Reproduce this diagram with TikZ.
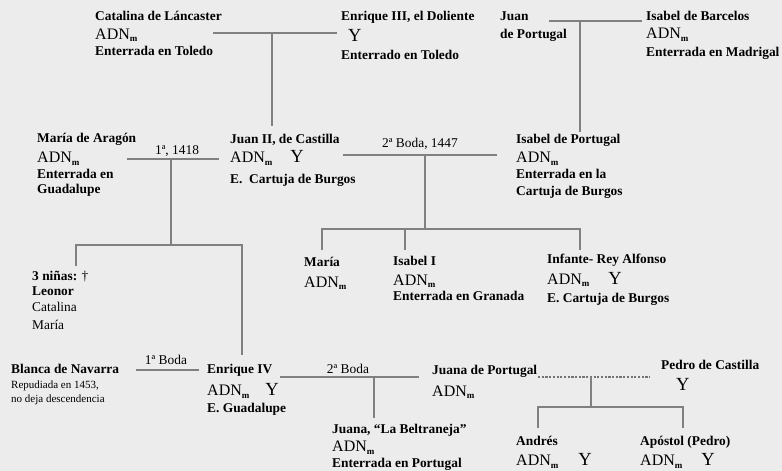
\documentclass[tikz,border=0pt]{standalone}
\usepackage{fontspec}
\setmainfont{Liberation Serif}
\definecolor{bg}{RGB}{236,236,236}
\definecolor{ln}{RGB}{128,128,128}
\newcommand\ppl[2][16.5pt]{\vtop{\baselineskip=#1\lineskiplimit=-100pt\lineskip=0pt\halign{##\hfil\cr#2\crcr}}}
\newcommand\adn{{\fontsize{16}{16}\selectfont\mdseries ADN}\raisebox{-2.5pt}{\fontsize{9}{9}\selectfont\bfseries m}}
\newcommand\yy{{\fontsize{18.5}{18}\selectfont\mdseries Y}}
\newcommand\sk[1]{\noalign{\vskip#1pt}}
\begin{document}
\begin{tikzpicture}[x=1pt,y=-1pt,
  person/.style={anchor=base west,inner sep=0pt,font=\fontsize{13.4}{16}\selectfont\bfseries},
  lbl/.style={anchor=base,inner sep=0pt,font=\fontsize{13.4}{16}\selectfont},
  link/.style={draw=ln,line width=1.4pt},
  dlink/.style={draw=ln!90!black,line width=1.2pt,dash pattern=on 2.2pt off 1.5pt}]
\fill[bg] (0,0) rectangle (782,471);
\useasboundingbox (0,0) rectangle (782,471);

% persons
\node[person] (cat) at (95,20.7) {\ppl{Catalina de Láncaster\cr\sk{2}\adn\cr Enterrada en Toledo}};
\node[person] (enr3) at (341,20.7) {\ppl{Enrique III, el Doliente\cr\sk{4.5}\hspace{7pt}\yy\cr\sk{1.5}Enterrado en Toledo}};
\node[person] (juanp) at (500,20.5) {\ppl{Juan\cr\sk{1}de Portugal}};
\node[person] (isbar) at (646,20.3) {\ppl{Isabel de Barcelos\cr\sk{2}\adn\cr\sk{1.5}Enterrada en Madrigal}};
\node[person] (maragon) at (37,142.7) {\ppl[15.3pt]{María de Aragón\cr\sk{4.7}\adn\cr Enterrada en\cr\sk{0.5}Guadalupe}};
\node[person] (juan2) at (230,143.5) {\ppl{Juan II, de Castilla\cr\sk{2.7}\adn\hspace{18pt}\yy\cr\sk{4.3}E.\ \ Cartuja de Burgos}};
\node[person] (isport) at (516,143.5) {\ppl[16pt]{Isabel de Portugal\cr\sk{3}\adn\cr Enterrada en la\cr\sk{0.5}Cartuja de Burgos}};
\node[person] (maria) at (304,266) {\ppl{María\cr\sk{4.5}\adn}};
\node[person] (isabel1) at (393,265) {\ppl[15.5pt]{Isabel I\cr\sk{4.5}\adn\cr Enterrada en Granada}};
\node[person] (alfonso) at (547,263.5) {\ppl[18pt]{Infante- Rey Alfonso\cr\sk{2.5}\adn\hspace{19pt}\yy\cr E. Cartuja de Burgos}};
\node[person] (ninas) at (32,280.5) {\ppl[15.3pt]{3 niñas: {\mdseries\dag}\cr Leonor\cr{\mdseries Catalina}\cr\sk{3}{\mdseries María}}};
\node[person] (blanca) at (11,373.5) {\ppl[14.7pt]{Blanca de Navarra\cr{\fontsize{11}{13}\selectfont\mdseries Repudiada en 1453,}\cr{\fontsize{11}{13}\selectfont\mdseries no deja descendencia}}};
\node[person] (enr4) at (207,373.5) {\ppl{Enrique IV\cr\sk{5.5}\adn\hspace{16pt}\yy\cr E. Guadalupe}};
\node[person] (beltraneja) at (332,433.5) {\ppl[15.5pt]{Juana, “La Beltraneja”\cr\sk{2.5}\adn\cr Enterrada en Portugal}};
\node[person] (juanap) at (432,374.5) {\ppl{Juana de Portugal\cr\sk{5}\adn}};
\node[person] (pedroc) at (661,369.5) {\ppl{Pedro de Castilla\cr\sk{4.5}\hspace{15pt}\yy}};
\node[person] (andres) at (516,445) {\ppl{Andrés\cr\sk{4}\adn\hspace{20pt}\yy}};
\node[person] (apostol) at (640,445) {\ppl{Apóstol (Pedro)\cr\sk{4}\adn\hspace{19pt}\yy}};

% labels
\node[lbl] (l1418) at (177,154) {1ª, 1418};
\node[lbl] (l1447) at (420,147.5) {2ª Boda, 1447};
\node[lbl] (lb1) at (166,364.5) {1ª Boda};
\node[lbl] (lb2) at (348,373.5) {2ª Boda};

% junction coordinates
\coordinate (a1) at (213,33); \coordinate (a2) at (337,33);
\coordinate (a3) at (272,33); \coordinate (a4) at (272,126);
\coordinate (b1) at (549,21); \coordinate (b2) at (642,21);
\coordinate (b3) at (580,21); \coordinate (b4) at (580,132);
\coordinate (c1) at (127,159); \coordinate (c2) at (219,159);
\coordinate (c3) at (171,159); \coordinate (c4) at (171,245);
\coordinate (c5) at (76,245); \coordinate (c6) at (242,245);
\coordinate (c7) at (76,266); \coordinate (c8) at (242,355);
\coordinate (d1) at (343,155); \coordinate (d2) at (497,155);
\coordinate (d3) at (425,155); \coordinate (d4) at (425,229);
\coordinate (d5) at (322,229); \coordinate (d6) at (580,229);
\coordinate (d7) at (322,250); \coordinate (d8) at (405,229);
\coordinate (d9) at (405,250); \coordinate (d10) at (580,250);
\coordinate (e1) at (136,370); \coordinate (e2) at (199,370);
\coordinate (f1) at (280,377); \coordinate (f2) at (419,377);
\coordinate (f3) at (374,377); \coordinate (f4) at (374,418);
\coordinate (g1) at (538,377); \coordinate (g2) at (650,377);
\coordinate (g3) at (591,377); \coordinate (g4) at (591,407);
\coordinate (g5) at (538,407); \coordinate (g6) at (683,407);
\coordinate (g7) at (538,428); \coordinate (g8) at (683,428);

% connectors
\draw[link] (a1) -- (a2); \draw[link] (a3) -- (a4);
\draw[link] (b1) -- (b2); \draw[link] (b3) -- (b4);
\draw[link] (c1) -- (c2); \draw[link] (c3) -- (c4);
\draw[link] (c7) -- (c5) -- (c6) -- (c8);
\draw[link] (d1) -- (d2); \draw[link] (d3) -- (d4);
\draw[link] (d7) -- (d5) -- (d6) -- (d10);
\draw[link] (d8) -- (d9);
\draw[link] (e1) -- (e2);
\draw[link] (f1) -- (f2); \draw[link] (f3) -- (f4);
\draw[dlink] (g1) -- (g2);
\draw[link] (g3) -- (g4);
\draw[link] (g7) -- (g5) -- (g6) -- (g8);
\end{tikzpicture}
\end{document}
